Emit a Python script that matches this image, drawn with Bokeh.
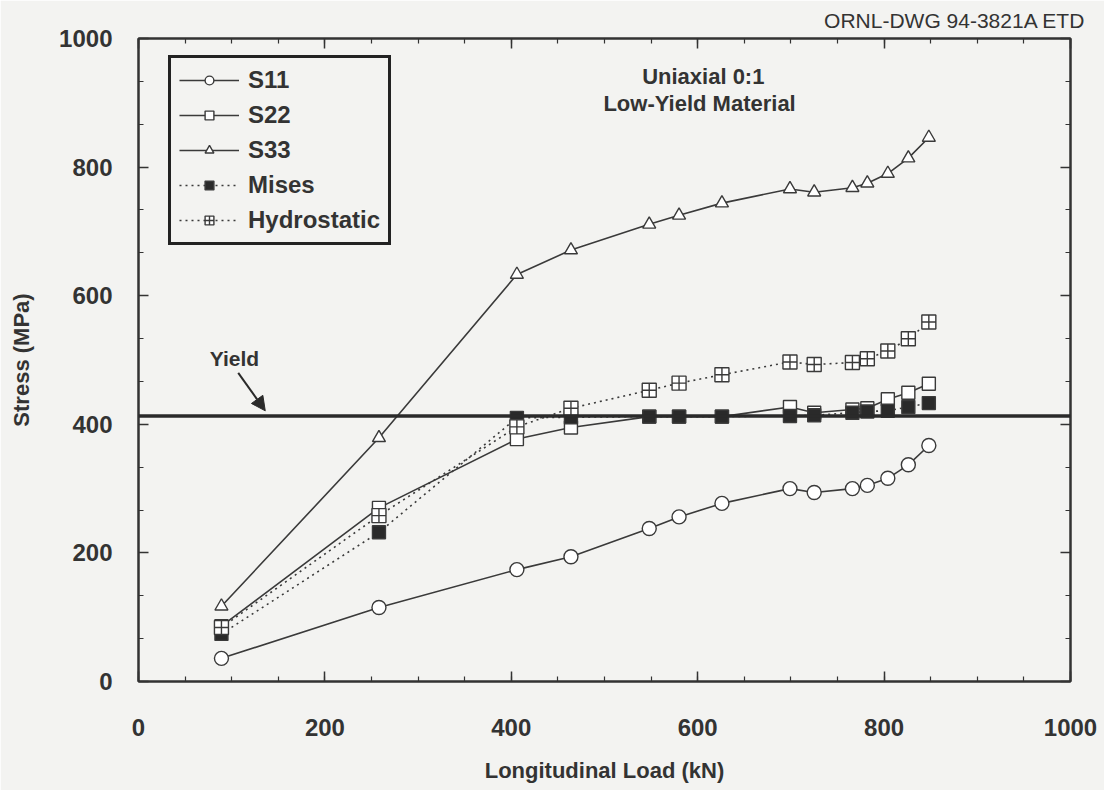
from bokeh.plotting import figure
from bokeh.models import (LinearAxis, SingleIntervalTicker, Span, Arrow, NormalHead,
                          Label, Legend, LegendItem, Range1d, CustomJSTickFormatter)
from bokeh.embed import file_html
from bokeh.resources import INLINE

# ---- data ----
load = [89, 258, 406, 464, 548, 580, 626, 699, 725, 766, 782, 804, 826, 848]
s11 = [36, 115, 174, 194, 238, 256, 277, 300, 294, 300, 305, 316, 337, 367]
s22 = [86, 270, 377, 395, 412, 412, 412, 427, 418, 423, 425, 439, 449, 463]
s33 = [117, 379, 633, 671, 711, 725, 744, 766, 761, 768, 775, 790, 814, 846]
mises = [74, 232, 410, 411, 412, 412, 412, 413, 414, 418, 420, 421, 427, 433]
hydro = [84, 258, 396, 425, 453, 464, 477, 497, 493, 496, 502, 514, 533, 559]
yield_stress = 413

x_ticks_interval = 200
y_ticks_interval = 200

FONT = "Liberation Sans"
INK = "#333333"
BG = "#f3f3f1"

p = figure(width=1104, height=790, output_backend="svg", toolbar_location=None,
           x_range=Range1d(0, 1000), y_range=Range1d(0, 1000),
           min_border_left=138, min_border_right=34, min_border_top=37, min_border_bottom=109,
           background_fill_color=BG, border_fill_color=BG)
p.grid.visible = False
p.outline_line_color = INK
p.outline_line_width = 2

xt = SingleIntervalTicker(interval=x_ticks_interval, num_minor_ticks=4)
yt = SingleIntervalTicker(interval=y_ticks_interval, num_minor_ticks=3)
blank = CustomJSTickFormatter(code="return '';")

def style_axis(ax, ticker, show_labels):
    ax.ticker = ticker
    ax.major_tick_in = 10
    ax.major_tick_out = 0
    ax.minor_tick_in = 5
    ax.minor_tick_out = 0
    ax.axis_line_color = INK
    ax.axis_line_width = 2
    ax.major_tick_line_color = INK
    ax.minor_tick_line_color = INK
    ax.major_tick_line_width = 1.5
    ax.minor_tick_line_width = 1.2
    if show_labels:
        ax.major_label_text_font = FONT
        ax.major_label_text_font_style = "bold"
        ax.major_label_text_font_size = "24px"
        ax.major_label_text_color = INK
        ax.axis_label_text_font = FONT
        ax.axis_label_text_font_style = "bold"
        ax.axis_label_text_font_size = "22px"
        ax.axis_label_text_color = INK
    else:
        ax.formatter = blank
        ax.major_label_text_font_size = "10px"
        ax.major_label_standoff = 0

p.xaxis.axis_label = "Longitudinal Load (kN)"
p.yaxis.axis_label = "Stress (MPa)"
style_axis(p.xaxis[0], xt, True)
style_axis(p.yaxis[0], yt, True)
p.xaxis.major_label_standoff = 37
p.xaxis.axis_label_standoff = 19
p.yaxis.major_label_standoff = 26
p.yaxis.axis_label_standoff = 22

top_ax = LinearAxis()
style_axis(top_ax, xt, False)
p.add_layout(top_ax, "above")
right_ax = LinearAxis()
style_axis(right_ax, yt, False)
p.add_layout(right_ax, "right")

p.title.text = "ORNL-DWG 94-3821A ETD"
p.title.align = "right"
p.title.text_font = FONT
p.title.text_font_style = "normal"
p.title.text_font_size = "21px"
p.title.text_color = INK
p.title.standoff = 13
p.title.offset = -15

# ---- yield line ----
p.add_layout(Span(location=yield_stress, dimension="width", line_color="#2a2a2a", line_width=3.5))

# ---- series ----
series = [
    ("S11", s11, "circle", "solid", "white", 14),
    ("S22", s22, "square", "solid", "white", 13),
    ("S33", s33, "triangle", "solid", "white", 13),
    ("Mises", mises, "square", "dotted", "#2a2a2a", 13),
    ("Hydrostatic", hydro, "square_cross", "dotted", "white", 14),
]
lines = []
for name, ys, marker, dash, fill, size in series:
    l = p.line(load, ys, line_color="#3a3a3a", line_width=1.6, line_dash=dash)
    lines.append(l)
items = []
for (name, ys, marker, dash, fill, size), l in zip(series, lines):
    s = p.scatter(load, ys, marker=marker, size=size, fill_color=fill,
                  line_color="#3a3a3a", line_width=1.4)
    items.append(LegendItem(label=name, renderers=[l, s]))

legend = Legend(items=items, location=(30, 436))
legend.border_line_color = "#222222"
legend.border_line_alpha = 1.0
legend.border_line_width = 3
legend.background_fill_color = BG
legend.background_fill_alpha = 1
legend.label_text_font = FONT
legend.label_text_font_style = "bold"
legend.label_text_font_size = "24px"
legend.label_text_color = INK
legend.glyph_width = 60
legend.glyph_height = 22
legend.label_height = 22
legend.label_standoff = 9
legend.spacing = 7
legend.padding = 8
legend.margin = 0
p.add_layout(legend, "center")

# ---- annotations ----
p.add_layout(Arrow(end=NormalHead(size=14, fill_color="#2a2a2a", line_color="#2a2a2a"),
                   x_start=107, y_start=480, x_end=136, y_end=421,
                   line_color="#2a2a2a", line_width=2))
for txt, x, y in [("Yield", 103, 503), ("Uniaxial 0:1", 606, 941), ("Low-Yield Material", 602, 899)]:
    p.add_layout(Label(x=x, y=y, text=txt, text_font=FONT, text_font_style="bold",
                       text_font_size="22px" if txt != "Yield" else "21px",
                       text_color=INK, text_align="center", text_baseline="middle"))

open("out.html", "w").write(file_html(p, INLINE))
